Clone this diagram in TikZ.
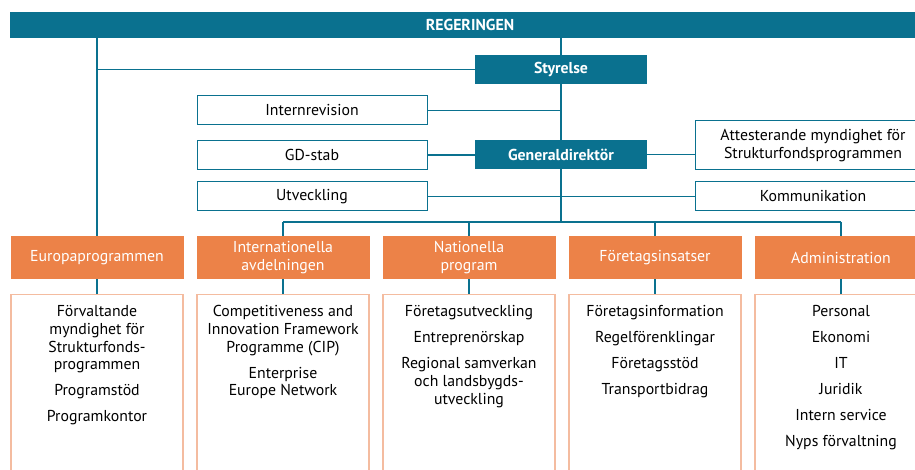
\documentclass[tikz,border=0pt]{standalone}
\usepackage{fontspec}
\setmainfont{PT Sans}
\definecolor{govteal}{RGB}{10,113,143}
\definecolor{govorange}{RGB}{236,130,72}
\definecolor{unitedge}{RGB}{244,188,160}
\begin{document}
\begin{tikzpicture}[x=1pt,y=-1pt,
  every node/.style={font=\fontsize{15.8}{17.7}\selectfont, inner sep=0pt},
  topbar/.style={fill=govteal, text=white, minimum width=920pt, minimum height=26pt},
  tealbox/.style={fill=govteal, text=white, minimum width=172pt, minimum height=29pt, font=\fontsize{15.8}{17.7}\selectfont\bfseries},
  staffbox/.style={draw=govteal, line width=1pt, fill=white, minimum width=230pt, minimum height=29pt, align=center},
  dept/.style={fill=govorange, text=white, minimum width=173pt, minimum height=43pt, align=center},
  unitbox/.style={draw=unitedge, line width=1.2pt, fill=white, minimum width=172pt, minimum height=190pt, anchor=north},
  unitlist/.style={anchor=north, align=center},
  link/.style={draw=govteal, line width=1.5pt}]
\useasboundingbox (0,0) rectangle (915,470);
\clip (0,0) rectangle (915,470);

% top level
\node[topbar] (reg) at (470,25) {\bfseries REGERINGEN};
\node[tealbox] (sty) at (561,69.5) {Styrelse};
\node[tealbox] (gd) at (561,154.5) {Generaldirektör};

% staff functions
\node[staffbox] (irev) at (312,110.5) {Internrevision};
\node[staffbox] (gdstab) at (312,155) {GD-stab};
\node[staffbox] (utv) at (312,196.5) {Utveckling};
\node[staffbox, minimum width=236pt, minimum height=49pt] (att) at (813,145.5)
  {Attesterande myndighet för\\Strukturfondsprogrammen};
\node[staffbox, minimum width=236pt] (komm) at (813,196.5) {Kommunikation};

% departments
\node[dept] (eu)   at (97,257.5)  {Europaprogrammen};
\node[dept] (intl) at (283,257.5) {Internationella\\avdelningen};
\node[dept] (nat)  at (469,257.5) {Nationella\\program};
\node[dept] (ftg)  at (655,257.5) {Företagsinsatser};
\node[dept] (adm)  at (841,257.5) {Administration};

% unit boxes
\node[unitbox] (euU)   at (97,294)  {};
\node[unitbox] (intlU) at (283,294) {};
\node[unitbox] (natU)  at (469,294) {};
\node[unitbox] (ftgU)  at (655,294) {};
\node[unitbox] (admU)  at (841,294) {};

\node[unitlist] (euL) at ([yshift=-11.5pt]euU.north)
  {Förvaltande\\myndighet för\\Strukturfonds-\\programmen\\[8pt]Programstöd\\[8pt]Programkontor};
\node[unitlist] (intlL) at ([yshift=-11.5pt]intlU.north)
  {Competitiveness and\\Innovation Framework\\Programme (CIP)\\[8pt]Enterprise\\Europe Network};
\node[unitlist] (natL) at ([yshift=-11.5pt]natU.north)
  {Företagsutveckling\\[8.3pt]Entreprenörskap\\[8.3pt]Regional samverkan\\och landsbygds-\\utveckling};
\node[unitlist] (ftgL) at ([yshift=-11.5pt]ftgU.north)
  {Företagsinformation\\[8.3pt]Regelförenklingar\\[8.3pt]Företagsstöd\\[8.3pt]Transportbidrag};
\node[unitlist] (admL) at ([yshift=-11.5pt]admU.north)
  {Personal\\[8.3pt]Ekonomi\\[8.3pt]IT\\[8.3pt]Juridik\\[8.3pt]Intern service\\[8.3pt]Nyps förvaltning};

% connectors
\coordinate (bus) at (561,222);
\path[link] (reg.south -| sty.north) -- (sty.north);
\path[link] (sty.south) -- (gd.north);
\path[link] (gd.south) -- (bus);
\path[link] (reg.south -| eu.north) -- (eu.north);
\path[link] (sty.west -| eu.north) -- (sty.west);
\path[link] (irev.east) -- (irev.east -| sty.south);
\path[link] (gdstab.east) -- (gdstab.east -| gd.west);
\path[link] (gd.east) -- (gd.east -| att.west);
\path[link] (utv.east) -- (komm.west);
\path[link] (bus -| intl.north) -- (bus -| adm.north);
\foreach \d in {intl,nat,ftg,adm}
  \path[link] (bus -| \d.north) -- (\d.north);
\foreach \d in {eu,intl,nat,ftg,adm}
  \path[link] (\d.south) -- (\d U.north);
\end{tikzpicture}
\end{document}
